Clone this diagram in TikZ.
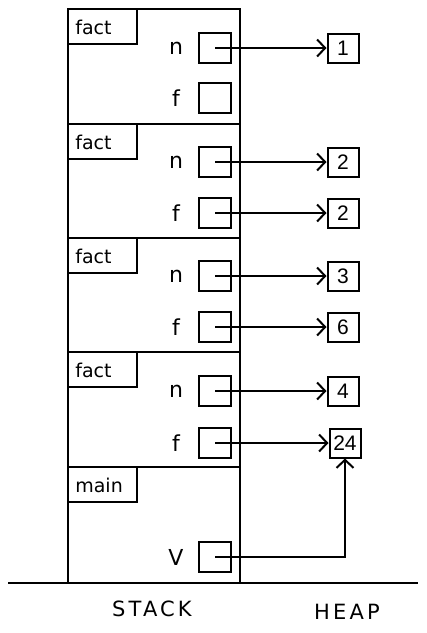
\documentclass[tikz,border=0pt]{standalone}
\usepackage{fontspec}
\setmainfont{Liberation Sans}
\newfontfamily\handfont{DejaVu Sans}
\newfontfamily\handwide[LetterSpace=15]{DejaVu Sans}
\usetikzlibrary{arrows.meta}
\begin{document}
\begin{tikzpicture}[x=1pt,y=-1pt,line width=2pt,
  varbox/.style={draw,minimum width=32pt,minimum height=30pt,inner sep=0pt},
  heapbox/.style={draw,minimum width=31pt,minimum height=29pt,inner sep=0pt,font=\fontsize{21}{21}\selectfont},
  varlbl/.style={font=\handfont\fontsize{22}{22}\selectfont,anchor=center},
  tablbl/.style={font=\handfont\fontsize{19}{19}\selectfont,anchor=west},
  ptr/.style={-{Straight Barb[length=8pt,width=17pt,line width=2pt]},line width=2pt},
  bottomlbl/.style={font=\handwide\fontsize{21}{21}\selectfont}]
\useasboundingbox (0,0) rectangle (427,633);
\fill[white] (0,0) rectangle (427,633);
% stack outline
\draw (68,9) rectangle (240,583);
\foreach \y in {124,238,352,467} \draw (68,\y) -- (240,\y);
% ground
\coordinate (gl) at (8,583);
\coordinate (gr) at (418,583);
\draw (gl) -- (gr);
% tabs
\foreach \y/\t in {9/fact,124/fact,238/fact,352/fact,467/main}{
  \draw (68,\y+35) -- (137,\y+35) -- (137,\y);
  \node[tablbl] at (71,\y+18) {\t};
}
% variable boxes and labels
\foreach \nm/\y/\l in {n1/48/n,f1/98/f,n2/162/n,f2/213/f,n3/276/n,f3/327/f,n4/391/n,f4/443/f,v/557/V}{
  \node[varbox] (\nm) at (215,\y) {};
  \node[varlbl] at (176,\y) {\l};
}
% heap boxes
\node[heapbox] (h1) at (343,48) {1};
\node[heapbox] (h2) at (343,162) {2};
\node[heapbox] (h3) at (343,213) {2};
\node[heapbox] (h4) at (343,276) {3};
\node[heapbox] (h5) at (343,327) {6};
\node[heapbox] (h6) at (343,391) {4};
\node[heapbox] (h7) at (345,443) {24};
% pointers
\draw[ptr] (n1.center) -- (h1.west);
\draw[ptr] (n2.center) -- (h2.west);
\draw[ptr] (f2.center) -- (h3.west);
\draw[ptr] (n3.center) -- (h4.west);
\draw[ptr] (f3.center) -- (h5.west);
\draw[ptr] (n4.center) -- (h6.west);
\draw[ptr] (f4.center) -- (h7.west);
\draw[ptr] (v.center) -- (h7.south |- v.center) -- (h7.south);
% bottom labels
\node[bottomlbl] (stk) at (152,609) {STACK};
\node[bottomlbl] (hp) at (347,612) {HEAP};
\end{tikzpicture}
\end{document}
